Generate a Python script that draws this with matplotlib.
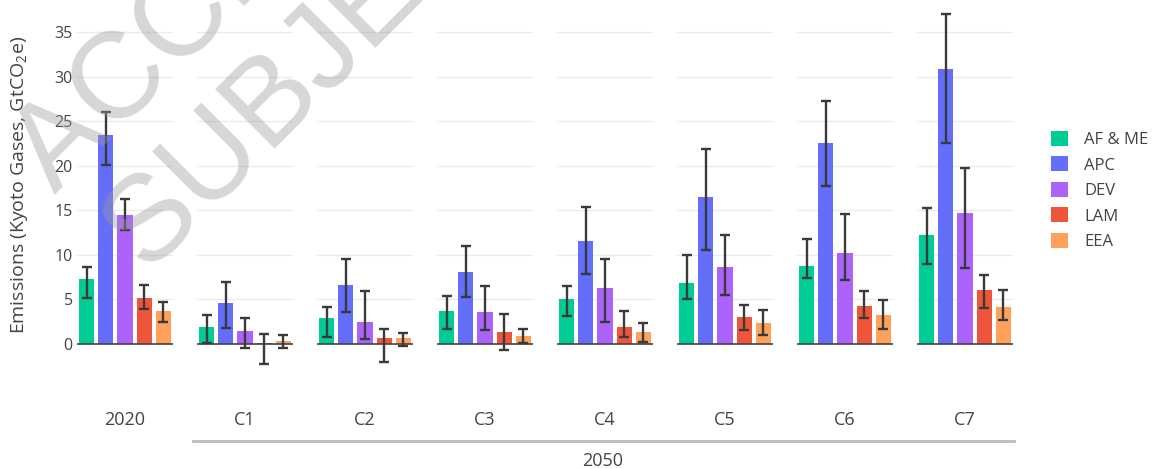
import matplotlib.pyplot as plt
import numpy as np

plt.rcParams['font.family'] = ['Open Sans', 'DejaVu Sans']
plt.rcParams['mathtext.fontset'] = 'custom'
plt.rcParams['mathtext.rm'] = 'Open Sans'

groups = ['2020', 'C1', 'C2', 'C3', 'C4', 'C5', 'C6', 'C7']
regions = ['AF & ME', 'APC', 'DEV', 'LAM', 'EEA']
colors = ['#00CC96', '#636EFA', '#AB63FA', '#EF553B', '#FFA15A']

# median emissions per region, with the low / high ends of each range
af_me = [7.3, 1.9, 2.9, 3.7, 5.0, 6.8, 8.8, 12.2]
af_me_lo = [5.2, 0.05, 0.8, 1.7, 3.1, 5.0, 7.4, 9.0]
af_me_hi = [8.6, 3.3, 4.1, 5.4, 6.55, 10.0, 11.75, 15.3]

apc = [23.5, 4.6, 6.6, 8.1, 11.5, 16.5, 22.6, 30.9]
apc_lo = [20.1, 1.8, 3.6, 5.3, 7.9, 10.5, 17.75, 22.6]
apc_hi = [26.0, 6.9, 9.5, 11.0, 15.4, 21.9, 27.25, 37.0]

dev = [14.5, 1.4, 2.5, 3.6, 6.3, 8.6, 10.2, 14.7]
dev_lo = [12.8, -0.5, 0.55, 1.55, 2.45, 5.45, 7.2, 8.55]
dev_hi = [16.25, 2.9, 5.9, 6.55, 9.5, 12.2, 14.6, 19.7]

lam = [5.1, 0.1, 0.65, 1.3, 1.95, 3.0, 4.2, 6.0]
lam_lo = [3.95, -2.2, -2.0, -0.7, 0.8, 1.55, 2.9, 4.0]
lam_hi = [6.65, 1.1, 1.7, 3.4, 3.7, 4.35, 5.95, 7.75]

eea = [3.7, 0.37, 0.63, 0.86, 1.35, 2.3, 3.3, 4.1]
eea_lo = [2.5, -0.5, -0.2, 0.05, 0.25, 1.0, 1.7, 2.7]
eea_hi = [4.65, 0.95, 1.2, 1.65, 2.35, 3.8, 4.9, 6.05]

values = [af_me, apc, dev, lam, eea]
lows = [af_me_lo, apc_lo, dev_lo, lam_lo, eea_lo]
highs = [af_me_hi, apc_hi, dev_hi, lam_hi, eea_hi]

TXT = '#444444'
W, H = 1154, 469
fig = plt.figure(figsize=(W / 100, H / 100), dpi=100)

x = np.arange(len(regions))
handles = None
for i, g in enumerate(groups):
    left = 77 + 120 * i
    ax = fig.add_axes([left / W, (H - 384) / H, 96 / W, 384 / H])
    v = [values[r][i] for r in range(len(regions))]
    lo = [values[r][i] - lows[r][i] for r in range(len(regions))]
    hi = [highs[r][i] - values[r][i] for r in range(len(regions))]
    bars = ax.bar(x, v, width=0.8, color=colors, zorder=2)
    ax.errorbar(x, v, yerr=[lo, hi], fmt='none', ecolor='#3a3a3a',
                elinewidth=1.7, capsize=3.6, capthick=1.7, zorder=3)
    ax.axhline(0, color=TXT, lw=1.2, zorder=2.5)

    ax.set_xlim(-0.5, 4.5)
    ax.set_ylim(-4.5, 38.6)
    ax.set_yticks(range(0, 40, 5))
    ax.set_xticks([])
    ax.grid(axis='y', color='#ebebeb', lw=1)
    ax.set_axisbelow(True)
    for s in ax.spines.values():
        s.set_visible(False)
    ax.tick_params(length=0, labelsize=11.5, colors=TXT, pad=3)
    if i > 0:
        ax.tick_params(labelleft=False)
    if handles is None:
        handles = bars.patches

    fig.text((left + 48) / W, (H - 420) / H, g, ha='center', va='center',
             fontsize=13, color=TXT)

# bracket under the 2050 scenarios
fig.add_artist(plt.Line2D([193 / W, 1014 / W], [(H - 441) / H] * 2,
                          color='#bbbbbb', lw=2))
fig.text(603 / W, (H - 461) / H, '2050', ha='center', va='center',
         fontsize=13, color=TXT)

fig.text(20 / W, (H - 185) / H, r'Emissions (Kyoto Gases, GtCO$_\mathregular{2}$e)',
         rotation=90, ha='center', va='center', fontsize=14, color=TXT)

fig.legend(handles, regions, loc='upper left',
           bbox_to_anchor=(1051 / W, (H - 131) / H), frameon=False,
           fontsize=12, labelcolor=TXT, handlelength=1.0, handleheight=1.0,
           handletextpad=1.0, labelspacing=0.5, borderpad=0, borderaxespad=0)

# draft watermark
wm = dict(rotation=45, rotation_mode='anchor', ha='left', va='baseline',
          fontsize=88, family='Liberation Sans',
          color='#9a9a9a', alpha=0.4, zorder=10)
fig.text(55 / W, (H - 195) / H, 'ACCEPTED VERSION', **wm)
fig.text(148 / W, (H - 275) / H, 'SUBJECT TO FINAL EDITS', **wm)

fig.savefig('out.png', dpi=100)
